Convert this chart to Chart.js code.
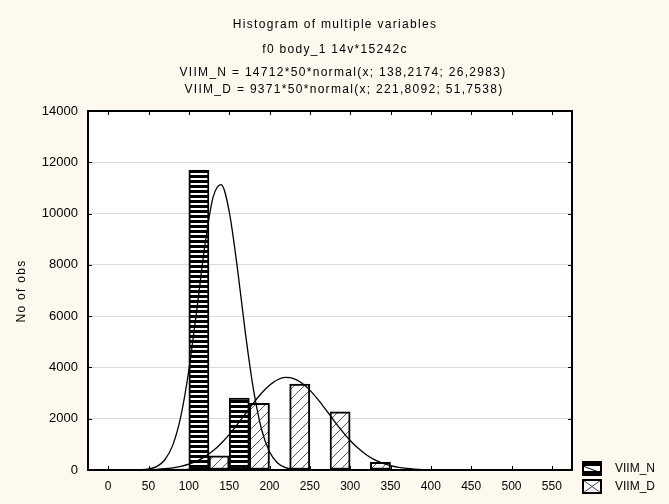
<!DOCTYPE html>
<html><head><meta charset="utf-8">
<script src="https://cdn.jsdelivr.net/npm/chart.js@4.4.1/dist/chart.umd.min.js"></script>
<style>html,body{margin:0;padding:0;background:#fef9ee;}canvas{display:block;}</style>
</head><body>
<canvas id="c" width="669" height="504"></canvas>
<script>
// ---- data ----
const titleLines = [
  'Histogram of multiple variables',
  'f0 body_1 14v*15242c',
  'VIIM_N = 14712*50*normal(x; 138,2174; 26,2983)',
  'VIIM_D = 9371*50*normal(x; 221,8092; 51,7538)'
];
const seriesNames = ['VIIM_N', 'VIIM_D'];
const yAxisTitle = 'No of obs';
const binCenters = [75, 125, 175, 225, 275, 325];
const viimN = [null, 11700, 2800, null, null, null];
const viimD = [50, 550, 2600, 3350, 2270, 300];
const curveX = [0,10,20,30,40,50,60,70,80,90,100,110,120,130,140,150,160,170,180,190,200,
                210,220,230,240,250,260,270,280,290,300,310,320,330,340,350,360,370,380,390,400];
const curveN = [0,0,0,0,10,40,130,390,960,2080,3890,6280,8780,10630,11130,10090,7920,5370,3160,1600,710,
                270,90,25,6,1,0,0,0,0,0,0,0,0,0,0,0,0,0,0,0];
const curveD = [0,1,2,4,8,15,27,49,85,141,226,350,522,749,1036,1380,1771,2189,2607,2991,3305,
                3519,3610,3567,3395,3114,2751,2341,1919,1516,1153,846,597,406,266,168,102,60,34,18,10];
const xTickValues = [0,50,100,150,200,250,300,350,400,450,500,550];
const yTickValues = [0,2000,4000,6000,8000,10000,12000,14000];

// ---- patterns ----
const FONT = "'Liberation Sans', Arial, sans-serif";
function makeStripe() {
  const c = document.createElement('canvas'); c.width = 5; c.height = 5;
  const g = c.getContext('2d');
  g.fillStyle = '#fff'; g.fillRect(0,0,5,5);
  g.fillStyle = '#000'; g.fillRect(0,0,5,3);
  return g.createPattern(c, 'repeat');
}
function makeHatch() {
  const c = document.createElement('canvas'); c.width = 10; c.height = 10;
  const g = c.getContext('2d');
  g.fillStyle = '#fff'; g.fillRect(0,0,10,10);
  g.strokeStyle = '#555'; g.lineWidth = 1;
  g.beginPath();
  g.moveTo(-1,11); g.lineTo(11,-1);
  g.moveTo(-6,6); g.lineTo(6,-6);
  g.moveTo(4,16); g.lineTo(16,4);
  g.stroke();
  return g.createPattern(c, 'repeat');
}
const patN = makeStripe();
const patD = makeHatch();

const decor = {
  id: 'decor',
  beforeDraw(chart) {
    const ctx = chart.ctx, a = chart.chartArea;
    ctx.save();
    ctx.fillStyle = '#fef9ee';
    ctx.fillRect(0, 0, chart.width, chart.height);
    ctx.fillStyle = '#ffffff';
    ctx.fillRect(a.left, a.top, a.right - a.left, a.bottom - a.top);
    ctx.restore();
  },
  afterDraw(chart) {
    const ctx = chart.ctx, a = chart.chartArea;
    const xs = chart.scales.x, ys = chart.scales.y;
    ctx.save();
    // frame
    ctx.strokeStyle = '#000'; ctx.lineWidth = 2;
    ctx.strokeRect(a.left, a.top, a.right - a.left, a.bottom - a.top);
    // inner tick marks
    ctx.lineWidth = 1;
    ctx.beginPath();
    xTickValues.forEach(v => {
      const p = Math.round(xs.getPixelForValue(v)) + 0.5;
      ctx.moveTo(p, a.bottom); ctx.lineTo(p, a.bottom - 4);
      ctx.moveTo(p, a.top); ctx.lineTo(p, a.top + 4);
    });
    yTickValues.forEach(v => {
      const p = Math.round(ys.getPixelForValue(v)) + 0.5;
      ctx.moveTo(a.left, p); ctx.lineTo(a.left + 4, p);
      ctx.moveTo(a.right, p); ctx.lineTo(a.right - 4, p);
    });
    ctx.stroke();
    // titles
    ctx.fillStyle = '#000';
    ctx.font = '12px ' + FONT;
    ctx.textAlign = 'center'; ctx.textBaseline = 'middle';
    ctx.letterSpacing = '1.3px';
    const ty = [25, 50, 73, 90], tx = [335, 335, 343, 344];
    titleLines.forEach((t, i) => ctx.fillText(t, tx[i], ty[i]));
    // y title
    ctx.save();
    ctx.translate(22, 291); ctx.rotate(-Math.PI / 2);
    ctx.fillText(yAxisTitle, 0, 0);
    ctx.restore();
    ctx.letterSpacing = '0px';
    // legend
    const bx = 583, bw = 18, bh = 13;
    const by = [462, 480];
    // N symbol
    ctx.fillStyle = '#fff'; ctx.fillRect(bx, by[0], bw, bh);
    ctx.fillStyle = '#000';
    ctx.fillRect(bx, by[0], bw, 4);
    ctx.fillRect(bx, by[0] + bh - 4, bw, 4);
    ctx.lineWidth = 1;
    ctx.beginPath(); ctx.moveTo(bx, by[0] + 4); ctx.lineTo(bx + bw, by[0] + bh - 2); ctx.stroke();
    ctx.lineWidth = 2;
    ctx.strokeRect(bx, by[0], bw, bh);
    // D symbol
    ctx.fillStyle = '#fff'; ctx.fillRect(bx, by[1], bw, bh);
    ctx.strokeStyle = '#444'; ctx.lineWidth = 1;
    ctx.beginPath();
    ctx.moveTo(bx, by[1]); ctx.lineTo(bx + bw, by[1] + bh);
    ctx.moveTo(bx, by[1] + bh); ctx.lineTo(bx + bw, by[1]);
    ctx.stroke();
    ctx.strokeStyle = '#000'; ctx.lineWidth = 2;
    ctx.strokeRect(bx, by[1], bw, bh);
    ctx.fillStyle = '#000';
    ctx.font = '12px ' + FONT;
    ctx.textAlign = 'left';
    seriesNames.forEach((n, i) => ctx.fillText(n, 615, by[i] + bh / 2 + 0.5));
    ctx.restore();
  }
};

new Chart(document.getElementById('c').getContext('2d'), {
  type: 'bar',
  data: {
    datasets: [
      { type: 'bar', label: seriesNames[0], data: binCenters.map((x, i) => ({ x, y: viimN[i] })),
        backgroundColor: patN, borderColor: '#000', borderWidth: 2, borderSkipped: false,
        barPercentage: 1, categoryPercentage: 1, order: 1 },
      { type: 'bar', label: seriesNames[1], data: binCenters.map((x, i) => ({ x, y: viimD[i] })),
        backgroundColor: patD, borderColor: '#000', borderWidth: 2, borderSkipped: false,
        barPercentage: 1, categoryPercentage: 1, order: 1 },
      { type: 'line', label: seriesNames[0] + ' fit', data: curveX.map((x, i) => ({ x, y: curveN[i] })),
        borderColor: '#000', borderWidth: 1.3, pointRadius: 0, fill: false,
        cubicInterpolationMode: 'monotone', order: 0 },
      { type: 'line', label: seriesNames[1] + ' fit', data: curveX.map((x, i) => ({ x, y: curveD[i] })),
        borderColor: '#000', borderWidth: 1.3, pointRadius: 0, fill: false,
        cubicInterpolationMode: 'monotone', order: 0 }
    ]
  },
  options: {
    responsive: false,
    animation: false,
    events: [],
    layout: { padding: { top: 111, right: 97, left: 0, bottom: 0 } },
    plugins: { legend: { display: false }, title: { display: false }, tooltip: { enabled: false } },
    scales: {
      x: {
        type: 'linear', min: -25, max: 575, offset: false,
        afterBuildTicks: s => { s.ticks = xTickValues.map(v => ({ value: v })); },
        afterFit: s => { s.height = 34; },
        grid: { display: false, drawTicks: false, offset: false },
        border: { display: false },
        ticks: { color: '#000', font: { family: FONT, size: 12 }, padding: 9, maxRotation: 0, autoSkip: false,
                 callback: v => String(v) }
      },
      y: {
        min: 0, max: 14000,
        afterBuildTicks: s => { s.ticks = yTickValues.map(v => ({ value: v })); },
        afterFit: s => { s.width = 88; },
        grid: { color: '#dadada', lineWidth: 1, drawTicks: false },
        border: { display: false },
        ticks: { color: '#000', font: { family: FONT, size: 13 }, padding: 10, autoSkip: false,
                 callback: v => String(v) }
      }
    }
  },
  plugins: [decor]
});
</script>
</body></html>
